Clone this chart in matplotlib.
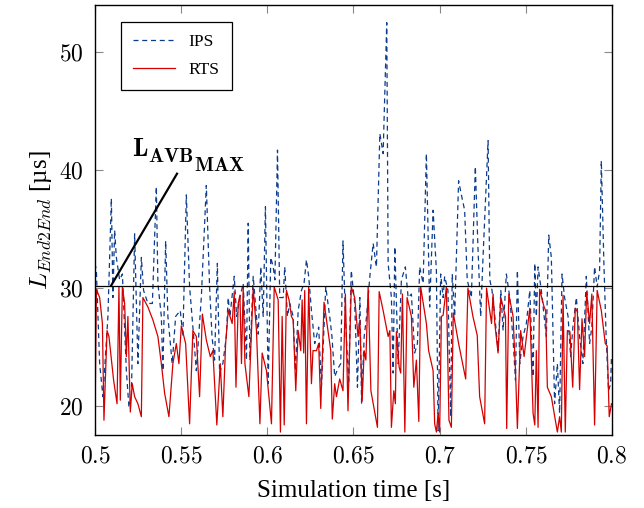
import matplotlib
matplotlib.use("Agg")
import matplotlib.pyplot as plt

# IPS series (dashed blue)
ips_t = [0.5, 0.5008, 0.5027, 0.5046, 0.5075, 0.5095, 0.5104, 0.5114, 0.5124, 0.5143,
         0.5159, 0.5182, 0.5197, 0.5211, 0.523, 0.5249, 0.5269, 0.5282, 0.5307, 0.5333,
         0.5356, 0.5365, 0.5385, 0.5394, 0.541, 0.5423, 0.5448, 0.5468, 0.5495, 0.551,
         0.553, 0.5549, 0.5568, 0.5588, 0.5617, 0.5646, 0.5665, 0.5679, 0.5694, 0.571,
         0.5723, 0.5742, 0.5762, 0.5773, 0.5783, 0.5808, 0.5822, 0.5841, 0.586, 0.5879,
         0.5889, 0.5899, 0.5918, 0.5937, 0.5947, 0.5962, 0.5976, 0.5989, 0.6005, 0.602,
         0.6034, 0.6044, 0.6059, 0.6072, 0.6092, 0.6101, 0.6117, 0.613, 0.615, 0.6163,
         0.6179, 0.6198, 0.6213, 0.6227, 0.624, 0.6256, 0.6275, 0.6298, 0.6314, 0.6339,
         0.6362, 0.6375, 0.6391, 0.641, 0.6426, 0.6439, 0.6453, 0.6472, 0.6487, 0.6507,
         0.6523, 0.6537, 0.6547, 0.6562, 0.6576, 0.6595, 0.6614, 0.6633, 0.6653, 0.6672,
         0.6693, 0.6701, 0.672, 0.673, 0.674, 0.6759, 0.6778, 0.6801, 0.6817, 0.6836,
         0.6855, 0.6871, 0.6884, 0.6904, 0.6923, 0.6942, 0.6962, 0.6981, 0.6991, 0.7006,
         0.702, 0.7029, 0.7048, 0.7064, 0.7073, 0.7087, 0.711, 0.7129, 0.7145, 0.716,
         0.7184, 0.7207, 0.7222, 0.7238, 0.7251, 0.7281, 0.7291, 0.7304, 0.732, 0.7339,
         0.7355, 0.7368, 0.7387, 0.7407, 0.7426, 0.744, 0.7451, 0.7465, 0.7484, 0.7503,
         0.7523, 0.7542, 0.7552, 0.7561, 0.7571, 0.759, 0.7619, 0.7633, 0.7648, 0.7667,
         0.7683, 0.7696, 0.771, 0.7725, 0.7745, 0.776, 0.7773, 0.7793, 0.7812, 0.7831,
         0.7851, 0.787, 0.7883, 0.7899, 0.7914, 0.7928, 0.7938, 0.7953, 0.7966, 0.798,
         0.7992, 0.7997]
ips_val = [32.1, 31.5, 23.6, 20.8, 27.6, 37.6, 29.2, 34.9, 32.6, 30.7,
           31.2, 23.0, 19.9, 20.8, 34.6, 23.6, 32.6, 29.8, 28.7, 28.7,
           38.6, 30.4, 27.6, 23.0, 34.0, 27.6, 23.6, 27.6, 28.1, 25.9,
           37.9, 30.1, 26.7, 23.0, 29.2, 38.7, 30.1, 25.9, 23.9, 32.1,
           22.8, 23.6, 25.9, 29.2, 27.6, 31.0, 27.6, 29.2, 30.4, 23.9,
           35.5, 23.9, 31.0, 27.6, 26.1, 31.8, 27.6, 36.9, 21.9, 32.6,
           31.8, 30.7, 41.7, 29.2, 29.2, 31.8, 27.6, 28.7, 27.6, 23.0,
           28.1, 29.8, 30.4, 32.4, 31.0, 28.1, 25.3, 26.7, 21.6, 30.1,
           27.6, 25.9, 22.5, 23.2, 23.6, 34.0, 27.6, 21.9, 31.5, 28.7,
           21.6, 29.2, 20.2, 25.9, 27.6, 31.0, 33.8, 31.8, 43.1, 41.4,
           52.5, 32.1, 29.2, 22.8, 33.5, 23.6, 30.7, 31.8, 29.2, 29.5,
           24.5, 25.3, 31.8, 30.4, 41.4, 28.4, 36.6, 31.5, 17.9, 31.2,
           29.2, 31.0, 29.8, 19.1, 31.2, 27.6, 39.1, 37.7, 36.6, 30.7,
           29.2, 40.3, 33.5, 27.6, 32.4, 42.5, 30.7, 29.8, 27.6, 24.7,
           29.8, 26.4, 31.2, 29.2, 25.6, 22.2, 31.5, 23.6, 25.9, 27.0,
           29.8, 22.5, 32.1, 27.6, 31.8, 29.8, 25.9, 34.5, 32.6, 20.2,
           23.6, 19.4, 31.2, 29.2, 27.6, 24.2, 26.7, 29.2, 25.9, 23.6,
           31.0, 25.3, 26.7, 31.8, 30.1, 31.5, 40.8, 32.1, 25.9, 21.3,
           21.9, 24.2]

# RTS series (solid red)
rts_t = [0.5, 0.5008, 0.5027, 0.5043, 0.5052, 0.507, 0.5081, 0.5108, 0.5128, 0.5139,
         0.5147, 0.5159, 0.5172, 0.5182, 0.5191, 0.5205, 0.5216, 0.523, 0.5249, 0.5269,
         0.5278, 0.5307, 0.5336, 0.5365, 0.5385, 0.5404, 0.5429, 0.5452, 0.5472, 0.5487,
         0.5501, 0.5526, 0.5549, 0.5568, 0.5588, 0.5607, 0.5623, 0.5646, 0.5669, 0.5684,
         0.5707, 0.5727, 0.5742, 0.5758, 0.5773, 0.5796, 0.5808, 0.5818, 0.5831, 0.5841,
         0.585, 0.586, 0.587, 0.5893, 0.5918, 0.5937, 0.5957, 0.597, 0.5995, 0.6024,
         0.604, 0.6063, 0.6076, 0.6086, 0.6098, 0.6111, 0.6126, 0.614, 0.615, 0.6165,
         0.6179, 0.6194, 0.6202, 0.6211, 0.6217, 0.6227, 0.624, 0.6256, 0.6265, 0.6285,
         0.6298, 0.631, 0.6329, 0.6352, 0.6368, 0.6377, 0.6391, 0.6401, 0.642, 0.6439,
         0.6453, 0.6468, 0.6487, 0.6507, 0.6526, 0.6537, 0.655, 0.6562, 0.6572, 0.6585,
         0.6601, 0.6639, 0.6649, 0.6672, 0.6701, 0.6711, 0.672, 0.6734, 0.6743, 0.6749,
         0.6765, 0.6774, 0.6784, 0.6798, 0.6811, 0.6836, 0.685, 0.6865, 0.6879, 0.689,
         0.6923, 0.6936, 0.6962, 0.6971, 0.6981, 0.6991, 0.7, 0.701, 0.702, 0.7039,
         0.7054, 0.7068, 0.7079, 0.711, 0.7151, 0.7164, 0.7193, 0.7218, 0.7232, 0.7261,
         0.7272, 0.7301, 0.731, 0.732, 0.7339, 0.7355, 0.7368, 0.7382, 0.7389, 0.7401,
         0.7426, 0.744, 0.7451, 0.747, 0.749, 0.7523, 0.7542, 0.7552, 0.7561, 0.7571,
         0.758, 0.7606, 0.7615, 0.7625, 0.7648, 0.7671, 0.7683, 0.7696, 0.7706, 0.7716,
         0.7729, 0.7741, 0.7756, 0.7772, 0.7787, 0.7799, 0.7812, 0.7826, 0.7841, 0.7853,
         0.787, 0.7883, 0.7899, 0.7914, 0.7938, 0.7961, 0.7972, 0.7984, 0.7997]
rts_val = [18.5, 29.9, 29.2, 27.0, 18.8, 26.4, 25.9, 22.2, 20.2, 30.1,
           20.5, 30.1, 28.7, 24.2, 27.6, 19.5, 21.9, 20.8, 20.2, 19.1,
           29.2, 28.4, 27.3, 25.9, 23.6, 21.1, 19.1, 23.6, 25.3, 23.6,
           26.8, 25.3, 18.5, 26.4, 25.9, 20.8, 27.8, 25.6, 24.2, 24.7,
           18.4, 23.6, 19.1, 25.3, 28.1, 27.0, 29.7, 21.6, 28.7, 29.4,
           23.6, 30.1, 23.6, 20.8, 30.0, 26.4, 18.5, 24.5, 23.0, 18.5,
           30.1, 29.0, 17.8, 27.6, 18.4, 29.8, 29.0, 27.6, 27.3, 21.3,
           26.4, 24.7, 29.0, 24.5, 29.8, 18.5, 30.1, 21.9, 24.7, 24.7,
           25.3, 19.8, 28.8, 26.4, 24.7, 18.9, 21.9, 20.8, 22.3, 21.3,
           29.5, 19.6, 30.1, 29.2, 25.9, 27.3, 20.4, 24.7, 23.9, 30.1,
           21.3, 18.2, 29.7, 28.1, 25.9, 26.4, 18.2, 21.3, 20.2, 26.3,
           23.3, 22.8, 29.5, 17.8, 29.2, 27.6, 21.6, 23.9, 18.7, 30.1,
           27.0, 24.7, 23.0, 18.5, 17.8, 19.4, 17.8, 27.6, 27.7, 30.1,
           18.8, 18.2, 27.9, 25.3, 22.3, 30.0, 27.6, 26.0, 20.8, 18.5,
           30.0, 27.0, 29.5, 27.0, 24.5, 29.2, 28.4, 27.6, 18.1, 29.5,
           27.6, 23.0, 18.1, 26.4, 24.2, 28.3, 19.4, 18.4, 24.7, 18.2,
           29.9, 28.4, 28.1, 21.6, 20.8, 18.8, 17.8, 19.1, 17.8, 29.4,
           17.8, 26.4, 26.3, 21.6, 28.3, 28.0, 21.4, 27.4, 24.2, 29.7,
           27.0, 29.5, 18.4, 29.8, 28.1, 25.3, 25.1, 19.1, 20.2]

avb_max = 30.2
x_ticks = [0.5, 0.55, 0.6, 0.65, 0.7, 0.75, 0.8]
x_tick_labels = ["0.5", "0.55", "0.6", "0.65", "0.7", "0.75", "0.8"]
y_ticks = [20, 30, 40, 50]

plt.rcParams["font.family"] = ["Liberation Serif", "DejaVu Serif"]
plt.rcParams["mathtext.fontset"] = "cm"

fig = plt.figure(figsize=(6.44, 5.08), dpi=100)
ax = fig.add_axes([0.1475, 0.1437, 0.8028, 0.8465])

ax.plot(ips_t, ips_val, linestyle=(0, (4, 3)), color="#0b3b8c", linewidth=0.9, label="IPS")
ax.plot(rts_t, rts_val, linestyle="-", color="#d40000", linewidth=0.9, label="RTS")
ax.axhline(avb_max, color="black", linewidth=0.9)

# annotation for the AVB max line: L, then AVB and MAX as stacked subscripts
ax.plot([0.5093, 0.5476], [avb_max, 39.7], color="black", linewidth=1.6)
t_l = ax.text(0.5213, 41.19, r"$\mathbf{L}$", fontsize=18.5, va="baseline")
t_avb = ax.annotate(r"$\mathbf{AVB}$", xy=(1, 0), xycoords=t_l, xytext=(0, -1.0),
                    textcoords="offset points", fontsize=14.5, va="baseline")
ax.annotate(r"$\mathbf{MAX}$", xy=(1, 0), xycoords=t_avb, xytext=(0, -2.2),
            textcoords="offset points", fontsize=14.5, va="baseline")

ax.set_xlim(0.5, 0.8)
ax.set_ylim(17.55, 54.0)
ax.set_xticks(x_ticks)
ax.set_xticklabels(["$" + s + "$" for s in x_tick_labels])
ax.set_yticks(y_ticks)
ax.set_yticklabels(["$%d$" % v for v in y_ticks])
ax.tick_params(direction="in", length=6, width=0.8, color="#888888",
               top=True, right=True, labelsize=17, pad=8)
for sp in ax.spines.values():
    sp.set_linewidth(1.0)

ax.set_xlabel("Simulation time [s]", fontsize=18, labelpad=9)
ax.set_ylabel(r"$L_{End2End}$ [µs]", fontsize=18, labelpad=4)

leg = ax.legend(loc="upper left", bbox_to_anchor=(0.05, 0.96), borderaxespad=0,
                fontsize=12.5, fancybox=False, edgecolor="black", framealpha=1,
                handlelength=2.4, handletextpad=0.8, borderpad=0.7, labelspacing=0.65)
leg.get_frame().set_linewidth(0.9)

fig.savefig("out.png", dpi=100)
